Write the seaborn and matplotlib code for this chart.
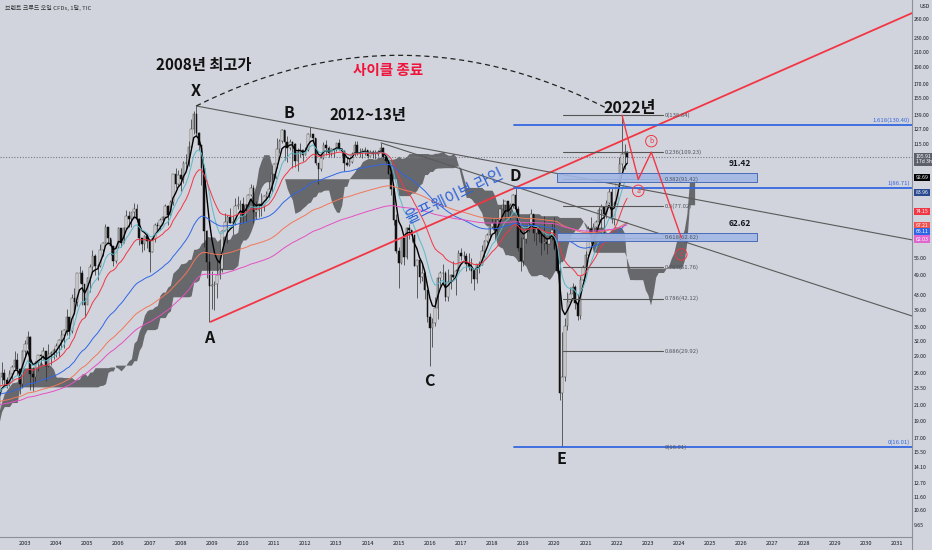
import numpy as np
import pandas as pd
import matplotlib
matplotlib.use("Agg")
import matplotlib.pyplot as plt
from matplotlib.lines import Line2D
import seaborn as sns

# monthly Brent CFD candles, Jan 1995 .. May 2022 (one row per year)
close_px = [
    16.9, 17.0, 17.0, 18.7, 17.6, 16.6, 15.8, 16.3, 16.2, 16.7, 17.5, 19.0,
    17.9, 19.0, 21.0, 20.9, 19.3, 19.1, 20.4, 21.3, 23.9, 23.9, 23.6, 23.8,
    22.8, 20.0, 19.5, 17.6, 19.5, 18.0, 19.1, 18.7, 19.7, 20.7, 18.9, 16.1,
    15.4, 14.0, 13.3, 14.6, 13.9, 12.1, 12.0, 12.4, 14.6, 12.6, 11.1, 10.0,
    11.1, 10.7, 14.5, 16.1, 15.3, 17.2, 20.1, 21.6, 24.2, 22.1, 25.2, 25.2,
    27.2, 29.6, 24.8, 23.4, 29.8, 32.0, 28.0, 31.9, 31.3, 32.5, 32.8, 22.9,
    27.0, 27.1, 24.7, 28.4, 28.2, 26.3, 25.5, 26.9, 22.7, 20.6, 18.7, 19.8,
    19.6, 20.1, 25.3, 25.9, 24.8, 24.2, 25.8, 27.0, 28.3, 26.6, 24.2, 30.0,
    31.3, 32.7, 25.7, 25.3, 27.8, 29.1, 29.0, 29.9, 27.1, 29.4, 29.6, 30.2,
    31.0, 32.2, 33.3, 34.3, 37.3, 34.0, 42.2, 41.1, 49.6, 49.6, 46.4, 40.5,
    48.2, 51.8, 55.4, 52.1, 51.9, 57.8, 60.5, 67.0, 62.4, 59.3, 53.9, 58.9,
    66.6, 60.5, 66.5, 72.0, 70.6, 73.9, 75.5, 70.6, 62.5, 60.0, 63.2, 61.1,
    57.1, 61.9, 68.1, 67.5, 70.0, 71.4, 77.0, 72.7, 79.2, 94.5, 88.7, 93.9,
    91.8, 101.7, 101.6, 112.9, 127.3, 139.8, 124.1, 114.1, 98.2, 65.3, 53.5, 45.6,
    45.9, 46.4, 49.2, 50.9, 65.4, 69.3, 71.7, 69.0, 69.1, 77.0, 77.5, 77.9,
    71.9, 77.6, 82.7, 86.2, 74.0, 75.0, 78.0, 76.7, 82.3, 83.2, 85.9, 94.8,
    101.0, 111.8, 117.4, 125.9, 116.7, 112.5, 117.0, 114.9, 102.8, 109.6, 110.5, 107.4,
    111.0, 122.7, 122.9, 119.5, 101.9, 97.8, 104.9, 114.6, 112.4, 108.7, 111.2, 111.1,
    115.6, 111.4, 110.0, 101.9, 100.4, 102.2, 107.7, 114.7, 108.4, 108.8, 110.8, 110.8,
    106.4, 109.1, 107.8, 108.1, 109.4, 112.4, 106.0, 103.2, 94.7, 85.9, 70.2, 57.3,
    53.0, 62.6, 55.1, 66.8, 65.6, 63.6, 52.2, 54.2, 48.4, 49.6, 44.6, 37.3,
    34.7, 36.0, 39.6, 48.1, 49.7, 49.7, 42.5, 47.0, 49.1, 48.3, 50.5, 56.8,
    55.6, 55.6, 52.8, 51.7, 50.3, 47.9, 52.7, 52.4, 57.5, 61.4, 63.6, 66.9,
    69.0, 65.8, 70.3, 75.2, 77.6, 79.4, 74.3, 77.4, 82.7, 75.5, 58.7, 53.8,
    61.9, 66.0, 68.4, 72.8, 64.5, 66.6, 64.1, 60.4, 60.8, 60.2, 62.4, 66.0,
    58.2, 50.5, 22.7, 25.3, 35.3, 41.2, 43.3, 45.3, 41.0, 37.5, 47.6, 51.8,
    55.9, 66.1, 63.5, 67.3, 69.3, 75.1, 76.3, 73.0, 78.5, 84.4, 70.6, 77.8,
    91.2, 101.0, 107.9, 109.3, 105.9,
]
high_px = [
    17.3, 17.6, 17.5, 19.2, 19.0, 17.8, 16.8, 16.6, 16.9, 17.0, 17.8, 19.3,
    19.2, 19.3, 22.6, 22.8, 21.2, 19.6, 20.8, 21.6, 24.3, 25.4, 24.6, 25.3,
    25.1, 23.0, 21.0, 19.7, 20.3, 19.6, 19.7, 19.6, 20.2, 21.5, 21.0, 19.0,
    16.6, 16.0, 14.9, 14.9, 15.2, 14.0, 13.2, 12.9, 15.0, 14.7, 13.0, 11.2,
    11.9, 11.9, 14.9, 16.8, 16.8, 17.4, 20.4, 21.9, 24.8, 24.3, 25.8, 26.0,
    27.9, 30.8, 32.1, 25.9, 30.5, 33.2, 32.0, 32.3, 37.8, 34.1, 34.8, 33.0,
    27.4, 29.0, 27.1, 28.7, 29.6, 29.3, 26.6, 27.5, 29.3, 22.7, 21.1, 20.2,
    20.5, 20.7, 25.7, 27.9, 26.6, 25.2, 26.4, 27.3, 29.9, 29.6, 25.9, 30.2,
    32.1, 34.0, 33.0, 27.0, 28.0, 29.2, 29.3, 30.8, 29.9, 31.3, 30.0, 30.5,
    31.6, 32.3, 34.4, 34.6, 39.4, 37.4, 43.3, 45.1, 49.8, 52.0, 50.6, 42.2,
    48.6, 52.6, 57.6, 56.2, 52.9, 59.9, 60.9, 68.4, 67.3, 62.1, 59.4, 59.4,
    67.0, 66.6, 67.1, 74.9, 74.6, 73.9, 78.6, 77.7, 71.0, 62.2, 63.8, 64.5,
    61.6, 62.3, 68.8, 69.3, 71.3, 72.3, 78.1, 77.3, 80.0, 94.7, 98.7, 97.5,
    98.5, 103.0, 108.0, 117.6, 135.1, 143.0, 147.5, 124.6, 111.3, 100.6, 65.8, 57.2,
    50.5, 47.3, 54.3, 53.4, 66.0, 73.5, 72.4, 75.7, 72.3, 80.8, 81.9, 79.8,
    81.6, 78.0, 83.3, 89.0, 88.0, 79.6, 78.3, 83.5, 82.6, 85.0, 90.3, 94.8,
    101.8, 119.8, 118.7, 127.0, 126.0, 121.3, 119.3, 117.1, 115.6, 112.3, 115.6, 111.3,
    113.0, 123.9, 128.4, 121.6, 119.7, 101.2, 107.8, 117.0, 117.9, 113.4, 111.9, 112.3,
    116.0, 119.2, 112.1, 110.5, 105.5, 104.5, 109.6, 117.3, 117.3, 112.3, 112.0, 112.6,
    111.0, 111.1, 110.6, 110.4, 111.0, 115.7, 112.6, 106.9, 103.9, 95.1, 86.3, 72.8,
    58.8, 63.0, 62.6, 67.1, 68.4, 65.8, 63.8, 54.2, 54.2, 53.1, 50.2, 44.0,
    38.4, 37.2, 42.5, 48.5, 50.5, 52.9, 50.5, 51.2, 49.4, 53.7, 50.9, 57.9,
    58.4, 57.5, 56.8, 56.7, 54.7, 50.9, 52.9, 53.6, 59.5, 61.7, 64.7, 67.1,
    71.3, 70.5, 71.2, 75.9, 80.5, 79.5, 79.4, 78.2, 83.3, 86.7, 77.0, 63.0,
    62.8, 67.5, 68.7, 75.6, 73.2, 67.6, 67.4, 62.5, 71.9, 62.3, 64.0, 68.9,
    71.8, 59.6, 53.9, 33.9, 37.0, 43.9, 45.3, 46.5, 46.0, 43.3, 48.7, 52.5,
    57.4, 67.7, 71.4, 68.9, 70.3, 76.2, 77.8, 73.4, 80.0, 86.7, 86.2, 79.6,
    91.7, 105.8, 139.1, 114.8, 109.8,
]
low_px = [
    15.8, 16.6, 16.5, 16.9, 17.3, 16.4, 15.4, 15.6, 15.9, 15.9, 16.5, 17.3,
    17.3, 17.7, 18.8, 19.6, 18.8, 18.3, 18.9, 19.9, 21.2, 22.8, 22.2, 23.0,
    22.3, 19.6, 18.6, 16.9, 17.4, 17.5, 17.8, 18.2, 18.2, 19.3, 18.5, 15.9,
    14.9, 13.6, 11.9, 13.1, 13.6, 11.7, 11.6, 11.6, 12.2, 12.1, 10.8, 9.6,
    10.0, 10.1, 10.6, 14.3, 14.8, 14.8, 16.9, 19.2, 21.4, 21.3, 21.6, 23.6,
    23.2, 26.1, 22.1, 22.0, 23.8, 27.3, 26.6, 27.9, 29.4, 29.6, 30.6, 22.0,
    22.6, 25.8, 23.1, 24.1, 27.3, 25.7, 23.8, 25.1, 22.0, 19.4, 16.8, 17.3,
    18.7, 19.0, 20.1, 24.2, 24.0, 23.5, 23.9, 24.6, 26.5, 25.6, 22.6, 23.6,
    28.7, 30.3, 23.2, 23.1, 24.3, 26.3, 27.4, 28.2, 24.6, 26.9, 27.3, 28.5,
    28.8, 28.9, 30.4, 30.6, 33.3, 32.6, 33.7, 38.0, 40.0, 46.5, 40.5, 37.3,
    40.6, 43.9, 50.1, 49.0, 47.5, 51.6, 55.4, 60.3, 60.1, 55.9, 51.9, 53.0,
    58.5, 58.8, 60.5, 66.2, 67.0, 67.0, 71.1, 69.5, 59.7, 56.9, 57.6, 58.6,
    49.9, 57.2, 60.8, 65.1, 65.6, 68.7, 71.4, 67.9, 72.6, 77.2, 86.6, 88.0,
    84.7, 89.5, 97.2, 99.9, 111.0, 123.2, 122.1, 111.0, 88.1, 59.0, 48.0, 36.2,
    39.4, 39.0, 42.2, 47.7, 50.0, 65.9, 60.4, 68.8, 64.2, 67.8, 75.6, 68.6,
    68.9, 69.3, 76.7, 81.9, 69.0, 70.8, 71.4, 72.2, 74.4, 80.2, 81.0, 84.0,
    92.5, 98.8, 108.3, 116.0, 104.1, 102.2, 110.8, 98.7, 99.0, 96.8, 106.0, 102.8,
    107.1, 109.8, 120.5, 117.9, 100.5, 88.5, 96.8, 104.6, 106.9, 106.0, 106.5, 105.6,
    109.9, 110.7, 106.7, 96.8, 100.0, 99.6, 102.0, 106.2, 107.0, 105.7, 104.8, 107.5,
    105.4, 106.3, 104.8, 104.5, 106.3, 109.2, 104.9, 101.2, 94.6, 82.6, 68.0, 56.5,
    45.2, 52.6, 52.5, 54.4, 62.0, 60.8, 52.1, 42.2, 46.5, 47.1, 42.0, 36.1,
    27.1, 30.8, 35.3, 36.9, 45.6, 46.6, 41.5, 41.5, 44.8, 48.0, 43.1, 52.8,
    54.0, 54.6, 50.3, 50.6, 46.6, 44.4, 46.6, 49.7, 52.4, 55.1, 60.4, 61.8,
    66.6, 61.8, 62.6, 68.9, 74.4, 70.8, 71.3, 70.5, 76.1, 74.3, 57.5, 50.3,
    52.1, 60.4, 64.9, 68.2, 61.4, 59.5, 61.0, 55.9, 57.8, 56.1, 60.1, 61.7,
    57.9, 49.6, 21.7, 16.0, 24.7, 34.4, 41.6, 42.3, 39.4, 36.6, 36.8, 47.4,
    51.1, 55.0, 60.2, 61.5, 65.4, 68.5, 66.6, 64.4, 71.0, 77.9, 69.0, 68.0,
    77.0, 88.4, 97.4, 97.8, 101.6,
]
start_year = 1995

# moving averages on the chart
ema_periods = [5, 10, 20, 60, 120, 200]
ema_colors = ["#000000", "#5bb8c9", "#f23645", "#2f66e8", "#f2775a", "#e650c2"]
ema_widths = [1.0, 0.7, 0.7, 0.7, 0.7, 0.7]

# wave points
wave_names = ["X", "A", "B", "C", "D", "E"]
wave_years = [2008.49, 2008.91, 2011.48, 2015.97, 2018.74, 2020.21]
wave_prices = [162.6, 32.5, 141.0, 24.6, 93.6, 14.85]

# fib retracement 2022 high -> 2020 low
fib_levels = [138.84, 109.23, 91.42, 77.02, 62.62, 51.76, 42.12, 29.92, 16.01]
fib_labels = ["0(138.84)", "0.236(109.23)", "0.382(91.42)", "0.5(77.02)", "0.618(62.62)",
              "0.707(51.76)", "0.786(42.12)", "0.886(29.92)", "0(16.01)"]
# fib extension (blue)
ext_levels = [130.40, 86.71, 16.01]
ext_labels = ["1.618(130.40)", "1(86.71)", "0(16.01)"]
# target zones
zone_labels = ["91.42", "62.62"]
zone_low = [89.9, 61.3]
zone_high = [95.4, 64.5]
# projected a-b-c path
abc_names = ["", "a", "b", "c"]
abc_years = [2022.17, 2022.69, 2023.11, 2024.07]
abc_prices = [138.84, 91.42, 109.23, 62.62]
# right axis price tags
tag_text = ["105.91\n17d 3h", "92.69", "83.96", "74.15", "67.21", "66.11", "62.03"]
tag_prices = [104.3, 92.69, 83.96, 74.15, 67.6, 65.1, 62.0]
tag_colors = ["#5d606b", "#000000", "#2a4a8f", "#f23645", "#ef5350", "#2f66e8", "#e066d0"]
last_price = 105.91

y_ticks = [260, 230, 210, 190, 170, 155, 139, 127, 115, 55, 49, 43, 39, 35, 32, 29, 26,
           23.5, 21, 19, 17, 15.5, 14.1, 12.7, 11.6, 10.6, 9.65]
year_ticks = list(range(2003, 2032))

sns.set_theme(style="white")
plt.rcParams["font.family"] = ["Noto Sans CJK KR", "DejaVu Sans"]
bg = "#d1d4dc"
small = 3.7

df = pd.DataFrame({"close": close_px, "high": high_px, "low": low_px})
df["t"] = start_year + np.arange(len(df)) / 12
df["open"] = df["close"].shift(1).fillna(df["close"].iloc[0])

fig = plt.figure(figsize=(9.32, 5.5), dpi=100, facecolor=bg)
ax = fig.add_axes([0, 13 / 550, 912 / 932, 537 / 550], facecolor=bg)
ax.set_yscale("log")

# ichimoku cloud (shifted 26 bars forward)
tenkan = (df["high"].rolling(9).max() + df["low"].rolling(9).min()) / 2
kijun = (df["high"].rolling(26).max() + df["low"].rolling(26).min()) / 2
span_a = (tenkan + kijun) / 2
span_b = (df["high"].rolling(52).max() + df["low"].rolling(52).min()) / 2
cloud_t = df["t"] + 26 / 12
ok = span_b.notna()
ax.fill_between(cloud_t[ok], span_a[ok], span_b[ok], color="#4d4d4f", alpha=0.8, lw=0, zorder=1)

# candles
up = df["close"] >= df["open"]
ax.vlines(df["t"], df["low"], df["high"], color="#2b2b2b", lw=0.5, zorder=2)
ax.bar(df["t"][up], (df["close"] - df["open"])[up], bottom=df["open"][up], width=0.05,
       color="#f2f2f2", edgecolor="#3a3a3a", lw=0.35, zorder=2)
ax.bar(df["t"][~up], (df["open"] - df["close"])[~up], bottom=df["close"][~up], width=0.05,
       color="#111111", edgecolor="#111111", lw=0.35, zorder=2)

# EMA ribbon
for n, c, w in zip(ema_periods, ema_colors, ema_widths):
    ema = df["close"].ewm(span=n, adjust=True).mean()
    sns.lineplot(x=df["t"].values, y=ema.values, ax=ax, color=c, lw=w, zorder=3)

x0, x1 = 2002.197, 2031.48
ax.axhline(last_price, color="#787b86", lw=0.8, ls=(0, (1, 1.5)), zorder=1)

# trend lines
ax.plot([2008.96, x1], [36.2, 270], color="#f23645", lw=1.3, zorder=4)
ax.plot([2008.5, x1], [147.5, 61.7], color="#5a5a5a", lw=0.8, zorder=4)
ax.plot([2014.43, x1], [116, 37.6], color="#5a5a5a", lw=0.8, zorder=4)

# dashed cycle arc
arc_pts_t = [2008.5, 2015.3, 2021.7]
arc_pts_p = [147.5, 205.0, 145.0]
coef = np.polyfit(arc_pts_t, np.log(arc_pts_p), 2)
arc_t = np.linspace(arc_pts_t[0], arc_pts_t[-1], 200)
ax.plot(arc_t, np.exp(np.polyval(coef, arc_t)), color="#222", lw=0.9, ls=(0, (4, 3)), zorder=4)

# fib retracement lines
for lv in fib_levels[:-1]:
    ax.plot([2020.28, 2023.49], [lv, lv], color="#555", lw=0.8, zorder=4)
for lv, lb in zip(fib_levels, fib_labels):
    ax.text(2023.55, lv, lb, fontsize=4.3, color="#50535e", va="center", ha="left", zorder=5)

# blue extension lines
for lv, lb in zip(ext_levels, ext_labels):
    ax.plot([2018.7, x1], [lv, lv], color="#3467e0", lw=1.3, zorder=4)
    ax.text(x1 - 0.08, lv * 1.012, lb, fontsize=4.3, color="#3467e0", ha="right", va="bottom", zorder=5)

# target zones
for lo_, hi_, lb in zip(zone_low, zone_high, zone_labels):
    ax.fill_between([2020.08, 2026.51], lo_, hi_, color="#a3b8e6", alpha=0.9, lw=0, zorder=4)
    ax.plot([2020.08, 2026.51, 2026.51, 2020.08, 2020.08], [lo_, lo_, hi_, hi_, lo_],
            color="#4a6bb8", lw=0.7, zorder=4)
    ax.text(2026.3, hi_ * 1.035, lb, fontsize=6, fontweight="bold", color="#131722",
            ha="right", va="bottom", zorder=5)

# projected abc
ax.plot(abc_years, abc_prices, color="#f23645", lw=1.0, zorder=5)
abc_label_p = [None, 84.9, 117.3, 56.1]
for nm, yr, lp in zip(abc_names, abc_years, abc_label_p):
    if nm:
        ax.text(yr, lp, nm, fontsize=5, color="#f23645", ha="center", va="center", zorder=6,
                bbox=dict(boxstyle="circle,pad=0.25", fc="none", ec="#f23645", lw=0.7))

# wave letters and notes
for nm, yr, pr in zip(wave_names, wave_years, wave_prices):
    ax.text(yr, pr, nm, fontsize=11.5, fontweight="semibold", color="#111", ha="center",
            va="center", zorder=6)
ax.text(2008.75, 192.7, "2008년 최고가", fontsize=11, fontweight="semibold", color="#111",
        ha="center", va="center", zorder=6)
ax.text(2014.01, 139, "2012~13년", fontsize=11, fontweight="semibold", color="#111",
        ha="center", va="center", zorder=6)
ax.text(2022.43, 145.6, "2022년", fontsize=11.5, fontweight="semibold", color="#111",
        ha="center", va="center", zorder=6)
ax.text(2014.66, 186.6, "사이클 종료", fontsize=10.5, fontweight="bold", color="#f0143c",
        ha="center", va="center", zorder=6)
ax.text(2016.81, 81.9, "울프웨이브 라인", fontsize=11.5, color="#2e62d8", rotation=26,
        ha="center", va="center", rotation_mode="anchor", zorder=6)

# price tags on the axis
for txt, pr, c in zip(tag_text, tag_prices, tag_colors):
    ax.text(1.004, pr, txt, transform=ax.get_yaxis_transform(), fontsize=small, color="white",
            ha="left", va="center", linespacing=1.1, clip_on=False, zorder=7,
            bbox=dict(boxstyle="square,pad=0.25", fc=c, ec="none"))
ax.text(1.008, 282, "USD", transform=ax.get_yaxis_transform(), fontsize=small, color="#131722",
        ha="left", va="center", clip_on=False)

ax.set_xlim(x0, x1)
ax.set_ylim(8.92, 294)
ax.yaxis.tick_right()
ax.set_yticks(y_ticks)
ax.set_yticklabels([f"{v:.2f}" for v in y_ticks])
ax.yaxis.set_minor_locator(matplotlib.ticker.NullLocator())
ax.set_xticks(year_ticks)
ax.set_xticklabels([str(y) for y in year_ticks])
ax.tick_params(axis="y", length=0, pad=1.5, labelsize=small, colors="#131722")
ax.tick_params(axis="x", length=0, pad=3, labelsize=4.1, colors="#131722")
ax.set_xlabel("")
ax.set_ylabel("")
for s in ["top", "left"]:
    ax.spines[s].set_visible(False)
for s in ["right", "bottom"]:
    ax.spines[s].set_color("#8c8f99")
    ax.spines[s].set_linewidth(0.8)
fig.add_artist(Line2D([912 / 932, 912 / 932], [0, 13 / 550], color="#8c8f99", lw=0.8))

fig.text(5 / 932, 1 - 8 / 550, "브렌트 크루드 오일 CFDs, 1달, TIC", fontsize=4.3, color="#333",
         ha="left", va="center")

fig.savefig("out.png", dpi=100, facecolor=bg)
